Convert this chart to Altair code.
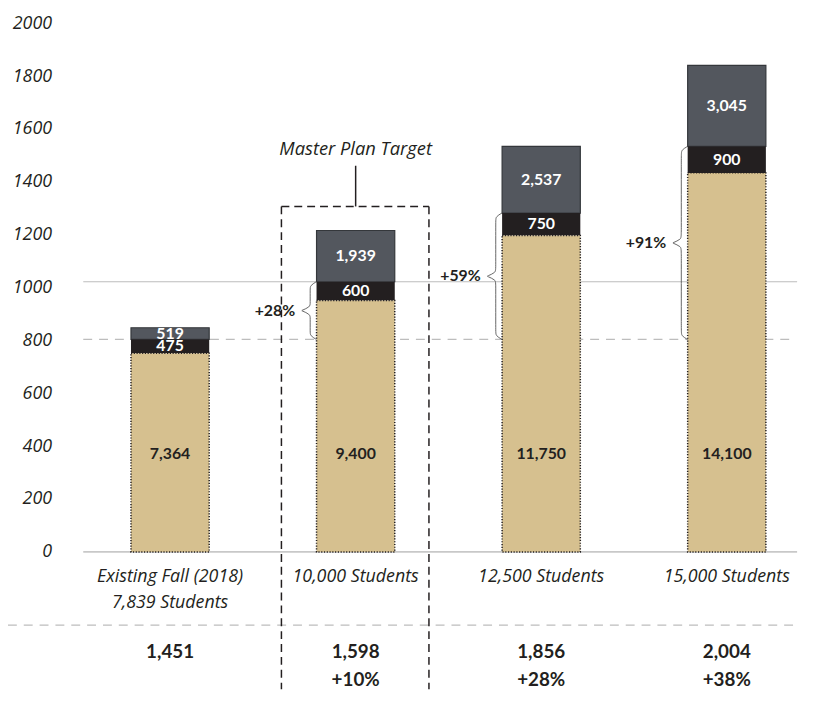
import altair as alt
import pandas as pd

# ---------------- data ----------------
scenarios = ["Existing Fall (2018)", "10,000 Students", "12,500 Students", "15,000 Students"]
sub_labels = ["7,839 Students", "", "", ""]
tan_values = ["7,364", "9,400", "11,750", "14,100"]
black_values = ["475", "600", "750", "900"]
gray_values = ["519", "1,939", "2,537", "3,045"]
# segment tops, read against the y axis
tan_top = [752, 951, 1197, 1434]
black_top = [804, 1022, 1282, 1534]
gray_top = [848, 1216, 1534, 1841]
growth_labels = ["", "+28%", "+59%", "+91%"]
bottom_values = ["1,451", "1,598", "1,856", "2,004"]
bottom_pct = ["", "+10%", "+28%", "+38%"]
y_ticks = [0, 200, 400, 600, 800, 1000, 1200, 1400, 1600, 1800, 2000]
target_title = "Master Plan Target"
target_index = 1

# ---------------- styling ----------------
FONT = "Lato"
IFONT = "Open Sans"
INK = "#231F20"
TAN = "#D6C08F"
BLACK = "#231F20"
GRAY = "#53575E"
RULE = "#BDBDBD"

XS = alt.Scale(domain=[-0.468, 3.379], nice=False, zero=False)
YS = alt.Scale(domain=[-491, 2000], nice=False, zero=False)

YAXIS = alt.Axis(values=y_ticks, grid=False, domain=False, ticks=False, tickSize=0,
                 labelFont=IFONT, labelFontStyle="italic", labelFontSize=18,
                 labelColor=INK, labelPadding=27, title=None, format="d")

idx = list(range(len(scenarios)))

seg_rows = []
for i in idx:
    seg_rows.append(dict(i=i, seg="tan", y0=0, y1=tan_top[i], label=tan_values[i]))
    seg_rows.append(dict(i=i, seg="black", y0=tan_top[i], y1=black_top[i], label=black_values[i]))
    seg_rows.append(dict(i=i, seg="gray", y0=black_top[i], y1=gray_top[i], label=gray_values[i]))
seg = pd.DataFrame(seg_rows)
seg["ymid"] = (seg["y0"] + seg["y1"]) / 2

base = alt.Chart(seg)

def X(field="i:Q"):
    return alt.X(field, scale=XS, axis=None)

def Y(field):
    return alt.Y(field, scale=YS, axis=YAXIS)

def YD(value):
    return alt.Y(datum=value, scale=YS, axis=YAXIS)

gray_bars = base.transform_filter("datum.seg == 'gray'").mark_bar(
    size=79, color=GRAY, stroke="#34373B", strokeWidth=1.2
).encode(x=X(), y=Y("y0:Q"), y2="y1:Q")

black_bars = base.transform_filter("datum.seg == 'black'").mark_bar(
    size=79, color=BLACK
).encode(x=X(), y=Y("y0:Q"), y2="y1:Q")

tan_bars = base.transform_filter("datum.seg == 'tan'").mark_bar(
    size=79, color=TAN, stroke=INK, strokeWidth=1.5, strokeDash=[1.2, 1.6]
).encode(x=X(), y=Y("y0:Q"), y2="y1:Q")

seg_text_white = base.transform_filter("datum.seg != 'tan'").mark_text(
    font=FONT, fontWeight="bold", fontSize=16, color="white", baseline="middle"
).encode(x=X(), y=Y("ymid:Q"), text="label:N")

seg_text_tan = base.transform_filter("datum.seg == 'tan'").mark_text(
    font=FONT, fontWeight="bold", fontSize=16, color=INK, baseline="middle"
).encode(x=X(), y=YD(372), text="label:N")

# reference lines
lines = pd.DataFrame({
    "kind": ["existing", "target", "base", "sep"],
    "x0": [-0.468, -0.468, -0.468, -0.874],
    "x1": [3.368, 3.379, 3.379, 3.368],
    "y": [black_top[0], black_top[target_index], 0, -277],
})
lbase = alt.Chart(lines)
rule_existing = lbase.transform_filter("datum.kind == 'existing'").mark_rule(
    color=RULE, strokeWidth=1.2, strokeDash=[9, 7]
).encode(x=X("x0:Q"), x2="x1:Q", y=Y("y:Q"))
rule_target = lbase.transform_filter("datum.kind == 'target'").mark_rule(
    color=RULE, strokeWidth=1.2
).encode(x=X("x0:Q"), x2="x1:Q", y=Y("y:Q"))
rule_base = lbase.transform_filter("datum.kind == 'base'").mark_rule(
    color="#C8C8C8", strokeWidth=1.6
).encode(x=X("x0:Q"), x2="x1:Q", y=Y("y:Q"))
rule_sep = lbase.transform_filter("datum.kind == 'sep'").mark_rule(
    color=RULE, strokeWidth=1.4, strokeDash=[9, 7]
).encode(x=X("x0:Q"), x2="x1:Q", y=Y("y:Q"))

# braces (growth vs existing)
brace_rows = []
for i in idx[1:]:
    y0, y1 = black_top[0], black_top[i]
    mid = (y0 + y1) / 2
    e, b, t = i - 0.212, i - 0.245, i - 0.292
    r = 14
    pts = [(e, y0), (b, y0 + r), (b, y0 + 2 * r), (b, mid - 2 * r), (b, mid - r), (t, mid),
           (t, mid), (b, mid + r), (b, mid + 2 * r), (b, y1 - 2 * r), (b, y1 - r), (e, y1)]
    for k, (px, py) in enumerate(pts):
        brace_rows.append(dict(i=i, k=k, bx=px, by=py))
braces = pd.DataFrame(brace_rows)
brace_lines = alt.Chart(braces).mark_line(
    color="#555555", strokeWidth=0.9, interpolate="basis"
).encode(x=X("bx:Q"), y=Y("by:Q"), detail="i:N", order="k:Q")

growth = pd.DataFrame({"i": idx, "label": growth_labels,
                       "ymid": [(black_top[0] + v) / 2 for v in black_top]})
growth["gx"] = growth["i"] - 0.326
growth_text = alt.Chart(growth).transform_filter("datum.label != ''").mark_text(
    font=FONT, fontWeight="bold", fontSize=16, color=INK, align="right", baseline="middle"
).encode(x=X("gx:Q"), y=Y("ymid:Q"), text="label:N")

# category labels and bottom table
cats = pd.DataFrame({"i": idx, "name": scenarios, "sub": sub_labels,
                     "val": bottom_values, "pct": bottom_pct})
cbase = alt.Chart(cats)
cat_text = cbase.mark_text(font=IFONT, fontStyle="italic", fontSize=18, color=INK,
                           baseline="middle").encode(
    x=X(), y=YD(-97), text="name:N")
sub_text = cbase.mark_text(font=IFONT, fontStyle="italic", fontSize=18, color=INK,
                           baseline="middle").encode(
    x=X(), y=YD(-195), text="sub:N")
val_text = cbase.mark_text(font=FONT, fontWeight="bold", fontSize=19, color=INK,
                           baseline="middle").encode(
    x=X(), y=YD(-378), text="val:N")
pct_text = cbase.mark_text(font=FONT, fontWeight="bold", fontSize=19, color=INK,
                           baseline="middle").encode(
    x=X(), y=YD(-483), text="pct:N")

# master plan target box
box = pd.DataFrame({
    "part": ["top", "left", "right", "tick"],
    "x0": [target_index - 0.4, target_index - 0.4, target_index + 0.395, target_index],
    "x1": [target_index + 0.395, target_index - 0.4, target_index + 0.395, target_index],
    "y0": [1307, 1307, 1307, 1307],
    "y1": [1307, -520, -520, 1461],
})
bbase = alt.Chart(box)
box_dash = bbase.transform_filter("datum.part != 'tick'").mark_rule(
    color=INK, strokeWidth=1.5, strokeDash=[8, 5]
).encode(x=X("x0:Q"), x2="x1:Q", y=Y("y0:Q"), y2="y1:Q")
box_tick = bbase.transform_filter("datum.part == 'tick'").mark_rule(
    color=INK, strokeWidth=1.5
).encode(x=X("x0:Q"), x2="x1:Q", y=Y("y0:Q"), y2="y1:Q")
title_df = pd.DataFrame({"i": [target_index], "t": [target_title]})
title_text = alt.Chart(title_df).mark_text(
    font=IFONT, fontStyle="italic", fontSize=18.5, color=INK, baseline="middle"
).encode(x=X(), y=YD(1525), text="t:N")

chart = alt.layer(
    rule_base, rule_existing, rule_target, rule_sep,
    box_dash, box_tick, title_text,
    gray_bars, black_bars, tan_bars,
    seg_text_white, seg_text_tan,
    brace_lines, growth_text,
    cat_text, sub_text, val_text, pct_text,
).properties(
    width=731, height=665,
    autosize=alt.AutoSizeParams(type="none"),
    padding={"left": 71, "top": 12, "right": 5, "bottom": 8},
).configure_view(stroke=None)

chart.save("out.html", embed_options={"renderer": "svg", "actions": False})
